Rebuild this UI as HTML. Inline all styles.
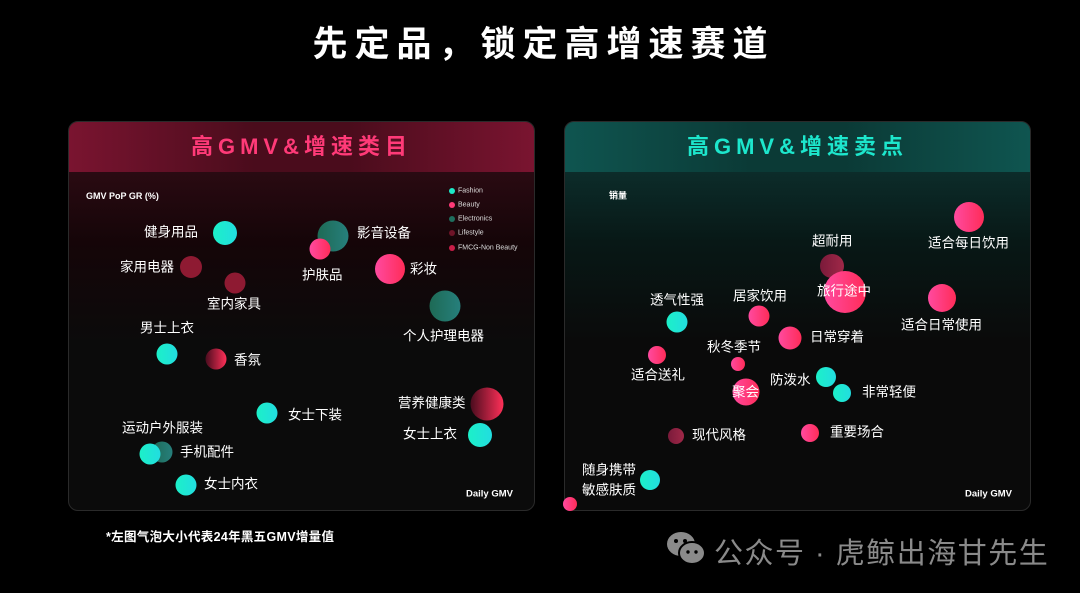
<!DOCTYPE html>
<html><head><meta charset="utf-8"><style>
*{margin:0;padding:0;box-sizing:border-box}
body{width:1080px;height:593px;background:#000;position:relative;overflow:hidden;font-family:"Liberation Sans","Noto Sans CJK SC",sans-serif;color:#fff}
.abs{position:absolute}
.title{left:0;width:1080px;top:16px;text-align:center;font-size:35px;font-weight:bold;letter-spacing:7px;padding-left:7px}
.panel{position:absolute;top:121px;height:390px;width:467px;border-radius:10px;overflow:hidden;border:1px solid #2a2a2a}
.p1{left:68px;background:linear-gradient(#2a0a12 50px,#150508 120px,#0b0b0b 220px)}
.p2{left:564px;background:linear-gradient(#0c2c2a 50px,#081816 120px,#0a0a0a 220px)}
.hd{position:absolute;left:0;top:0;width:100%;height:50px;text-align:center;font-size:22px;font-weight:bold;letter-spacing:5px;line-height:50px}
.p1 .hd{background:linear-gradient(90deg,#7a1430,#4a0c1c 40%,#4a0c1c 60%,#7a1430);color:#ff3a78}
.p2 .hd{background:linear-gradient(90deg,#0f5550,#0b3a36 40%,#0b3a36 60%,#0f5550);color:#1de6cc}
.b{position:absolute;border-radius:50%;transform:translate(-50%,-50%)}
.c{background:linear-gradient(90deg,#1cf0c8,#22dde0)}
.p{background:linear-gradient(90deg,#ff4aa0,#ff2c58)}
.t{background:linear-gradient(90deg,#1e6a55,#267f7c)}
.l{background:#8e1a32}
.pd{background:linear-gradient(90deg,#4a0c1e,#ff3058)}
.l2{background:linear-gradient(90deg,#7a1a3a,#a02848)}
.lb{position:absolute;font-size:13.5px;white-space:nowrap;transform:translateY(-50%);line-height:1}
.sm{position:absolute;font-size:9px;font-weight:bold;white-space:nowrap;transform:translateY(-50%)}
.lg{position:absolute;font-size:7px;color:#ddd;transform:translateY(-50%)}
.ld{position:absolute;width:6px;height:6px;border-radius:50%;transform:translate(-50%,-50%)}
</style></head><body>
<div class="abs title">先定品，锁定高增速赛道</div>
<div class="panel p1"><div class="hd">高GMV&amp;增速类目</div></div>
<div class="panel p2"><div class="hd">高GMV&amp;增速卖点</div></div>

<!-- left -->
<div class="sm" style="left:86px;top:196px">GMV PoP GR (%)</div>
<div class="ld" style="left:452px;top:191px;background:#1de9c8"></div><div class="lg" style="left:458px;top:191px">Fashion</div>
<div class="ld" style="left:452px;top:205px;background:#ff3a78"></div><div class="lg" style="left:458px;top:205px">Beauty</div>
<div class="ld" style="left:452px;top:219px;background:#1e6e5e"></div><div class="lg" style="left:458px;top:219px">Electronics</div>
<div class="ld" style="left:452px;top:233px;background:#6e1428"></div><div class="lg" style="left:458px;top:233px">Lifestyle</div>
<div class="ld" style="left:452px;top:248px;background:#c81e48"></div><div class="lg" style="left:458px;top:248px">FMCG-Non Beauty</div>
<div class="sm" style="left:466px;top:494px;font-size:9.5px">Daily GMV</div>

<div class="b c" style="left:225px;top:233px;width:24px;height:24px"></div><div class="lb" style="left:144px;top:232px">健身用品</div>
<div class="b t" style="left:333px;top:236px;width:31px;height:31px"></div><div class="lb" style="left:357px;top:233px">影音设备</div>
<div class="b p" style="left:320px;top:249px;width:21px;height:21px"></div><div class="lb" style="left:302px;top:275px">护肤品</div>
<div class="b l" style="left:191px;top:267px;width:22px;height:22px"></div><div class="lb" style="left:120px;top:267px">家用电器</div>
<div class="b l" style="left:235px;top:283px;width:21px;height:21px"></div><div class="lb" style="left:207px;top:304px">室内家具</div>
<div class="b p" style="left:390px;top:269px;width:30px;height:30px"></div><div class="lb" style="left:410px;top:269px">彩妆</div>
<div class="b t" style="left:445px;top:306px;width:31px;height:31px"></div><div class="lb" style="left:403px;top:336px">个人护理电器</div>
<div class="b c" style="left:167px;top:354px;width:21px;height:21px"></div><div class="lb" style="left:140px;top:328px">男士上衣</div>
<div class="b pd" style="left:216px;top:359px;width:21px;height:21px"></div><div class="lb" style="left:234px;top:360px">香氛</div>
<div class="b c" style="left:267px;top:413px;width:21px;height:21px"></div><div class="lb" style="left:288px;top:415px">女士下装</div>
<div class="b pd" style="left:487px;top:404px;width:33px;height:33px"></div><div class="lb" style="left:398px;top:403px">营养健康类</div>
<div class="b c" style="left:480px;top:435px;width:24px;height:24px"></div><div class="lb" style="left:403px;top:434px">女士上衣</div>
<div class="lb" style="left:122px;top:428px">运动户外服装</div>
<div class="b t" style="left:162px;top:452px;width:21px;height:21px"></div>
<div class="b c" style="left:150px;top:454px;width:21px;height:21px"></div><div class="lb" style="left:180px;top:452px">手机配件</div>
<div class="b c" style="left:186px;top:485px;width:21px;height:21px"></div><div class="lb" style="left:204px;top:484px">女士内衣</div>
<div class="abs" style="left:106px;top:526px;font-size:12.5px;font-weight:bold;letter-spacing:0.3px">*左图气泡大小代表24年黑五GMV增量值</div>

<!-- right -->
<div class="sm" style="left:609px;top:195px">销量</div>
<div class="sm" style="left:965px;top:494px;font-size:9.5px">Daily GMV</div>
<div class="b p" style="left:969px;top:217px;width:30px;height:30px"></div><div class="lb" style="left:928px;top:243px">适合每日饮用</div>
<div class="b l2" style="left:832px;top:266px;width:24px;height:24px"></div><div class="lb" style="left:812px;top:241px">超耐用</div>
<div class="b p" style="left:845px;top:292px;width:42px;height:42px"></div><div class="lb" style="left:817px;top:291px">旅行途中</div>
<div class="b p" style="left:942px;top:298px;width:28px;height:28px"></div><div class="lb" style="left:901px;top:325px">适合日常使用</div>
<div class="b c" style="left:677px;top:322px;width:21px;height:21px"></div><div class="lb" style="left:650px;top:300px">透气性强</div>
<div class="b p" style="left:759px;top:316px;width:21px;height:21px"></div><div class="lb" style="left:733px;top:296px">居家饮用</div>
<div class="b p" style="left:790px;top:338px;width:23px;height:23px"></div><div class="lb" style="left:810px;top:337px">日常穿着</div>
<div class="b p" style="left:738px;top:364px;width:14px;height:14px"></div><div class="lb" style="left:707px;top:347px">秋冬季节</div>
<div class="b p" style="left:657px;top:355px;width:18px;height:18px"></div><div class="lb" style="left:631px;top:375px">适合送礼</div>
<div class="b c" style="left:826px;top:377px;width:20px;height:20px"></div><div class="lb" style="left:770px;top:380px">防泼水</div>
<div class="b p" style="left:746px;top:392px;width:27px;height:27px"></div><div class="lb" style="left:732px;top:392px">聚会</div>
<div class="b c" style="left:842px;top:393px;width:18px;height:18px"></div><div class="lb" style="left:862px;top:392px">非常轻便</div>
<div class="b l2" style="left:676px;top:436px;width:16px;height:16px"></div><div class="lb" style="left:692px;top:435px">现代风格</div>
<div class="b p" style="left:810px;top:433px;width:18px;height:18px"></div><div class="lb" style="left:830px;top:432px">重要场合</div>
<div class="lb" style="left:582px;top:470px">随身携带</div><div class="lb" style="left:582px;top:490px">敏感肤质</div>
<div class="b c" style="left:650px;top:480px;width:20px;height:20px"></div>
<div class="b p" style="left:570px;top:504px;width:14px;height:14px"></div>

<!-- watermark -->
<svg class="abs" style="left:666px;top:531px" width="42" height="36" viewBox="0 0 42 36">
<ellipse cx="15" cy="13" rx="14" ry="12" fill="#8a8a8a"/><ellipse cx="26" cy="22" rx="13" ry="11" fill="#8a8a8a" stroke="#000" stroke-width="2"/>
<circle cx="10" cy="10" r="2" fill="#000"/><circle cx="19" cy="10" r="2" fill="#000"/><circle cx="22" cy="21" r="1.7" fill="#000"/><circle cx="30" cy="21" r="1.7" fill="#000"/></svg>
<div class="abs" style="left:714px;top:530px;font-size:29px;color:#8a8a8a;letter-spacing:1.5px;white-space:nowrap">公众号 · 虎鲸出海甘先生</div>
</body></html>
